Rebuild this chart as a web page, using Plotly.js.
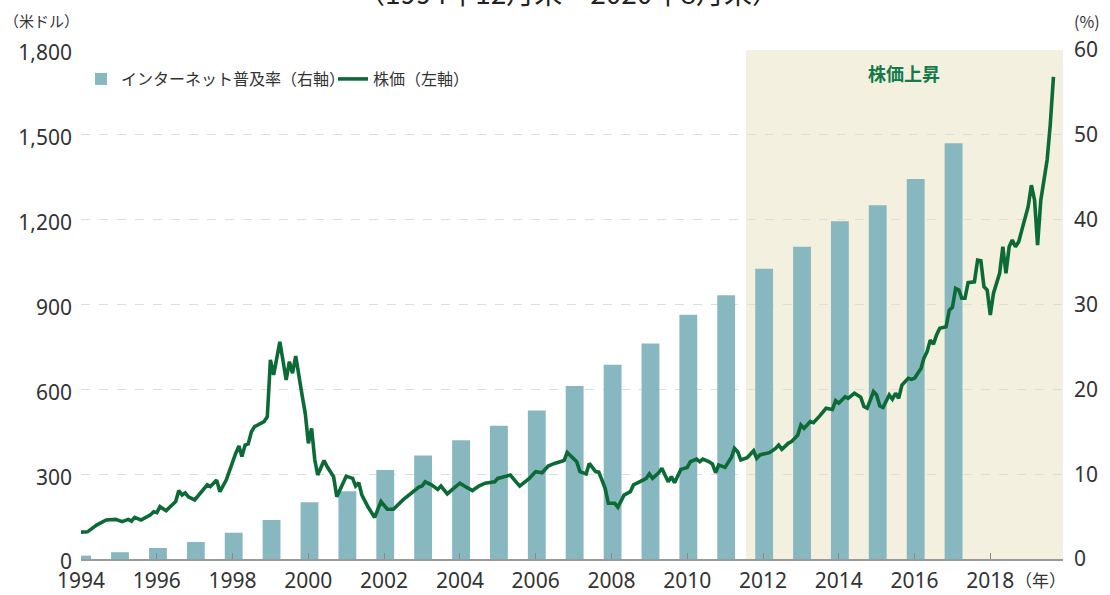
<!DOCTYPE html>
<html>
<head>
<meta charset="utf-8">
<script src="https://cdn.plot.ly/plotly-3.0.1.min.js"></script>
<style>
  html, body { margin: 0; padding: 0; background: #ffffff; }
  #chart { width: 1110px; height: 595px; }
</style>
</head>
<body>
<div id="chart"></div>
<script>
// ---- Data ----
const barYears = [1994,1995,1996,1997,1998,1999,2000,2001,2002,2003,2004,2005,2006,2007,2008,2009,2010,2011,2012,2013,2014,2015,2016,2017];
const internetRate = [0.4,0.8,1.3,2.0,3.1,4.6,6.7,8.0,10.5,12.2,14.0,15.7,17.5,20.4,22.9,25.4,28.8,31.1,34.2,36.8,39.8,41.7,44.8,49.0];

const priceMonths = [
'1994-12','1995-02','1995-05','1995-08','1995-11','1996-01','1996-03','1996-04','1996-05','1996-07','1996-10','1996-11','1996-12',
'1997-01','1997-03','1997-06','1997-07','1997-08','1997-09','1997-10','1997-12','1998-02','1998-04','1998-05','1998-07','1998-08','1998-10',
'1999-01','1999-02','1999-03','1999-04','1999-05','1999-06','1999-07','1999-10','1999-11','1999-12',
'2000-01','2000-03','2000-05','2000-06','2000-07','2000-08','2000-10','2000-11','2000-12',
'2001-01','2001-02','2001-03','2001-05','2001-06','2001-08','2001-09','2001-12',
'2002-02','2002-03','2002-04','2002-05','2002-07','2002-09','2002-11',
'2003-01','2003-03','2003-06','2003-08','2003-09','2003-11','2003-12',
'2004-01','2004-03','2004-05','2004-06','2004-08','2004-10','2004-12',
'2005-02','2005-04','2005-06','2005-08','2005-11','2005-12',
'2006-02','2006-04','2006-06','2006-07','2006-10','2006-12',
'2007-02','2007-04','2007-06','2007-09','2007-10','2007-12',
'2008-01','2008-02','2008-04','2008-05','2008-07','2008-08','2008-10','2008-11',
'2009-01','2009-02','2009-04','2009-06','2009-07','2009-10','2009-11','2009-12',
'2010-01','2010-03','2010-04','2010-05','2010-06','2010-07','2010-08','2010-10','2010-12',
'2011-01','2011-03','2011-04','2011-05','2011-07','2011-08','2011-09','2011-10','2011-12',
'2012-02','2012-03','2012-04','2012-05','2012-07','2012-09','2012-10','2012-11',
'2013-02','2013-04','2013-05','2013-06','2013-08','2013-09','2013-11','2013-12',
'2014-01','2014-03','2014-04','2014-06','2014-08','2014-10','2014-11','2014-12',
'2015-02','2015-03','2015-05','2015-07','2015-08','2015-09','2015-11','2015-12',
'2016-01','2016-02','2016-04','2016-05','2016-06','2016-07','2016-08','2016-10','2016-11','2016-12',
'2017-02','2017-03','2017-04','2017-05','2017-06','2017-07','2017-08','2017-10','2017-11','2017-12',
'2018-01','2018-02','2018-03','2018-04','2018-05','2018-07','2018-08','2018-09','2018-10','2018-11','2018-12',
'2019-01','2019-03','2019-04','2019-05','2019-06','2019-07','2019-08','2019-09','2019-10','2019-12',
'2020-01','2020-02','2020-03','2020-04','2020-06','2020-07','2020-08'
];
const priceValues = [
95,96,120,138,140,132,140,134,147,138,156,167,164,
185,171,203,242,226,234,220,209,238,262,256,279,238,279,
374,400,362,403,407,450,468,486,503,704,
651,768,633,698,657,718,580,515,409,
462,350,297,348,326,291,220,293,
285,258,270,226,183,147,203,
176,176,209,226,238,254,258,
273,262,246,258,230,250,268,
254,242,258,268,273,285,
291,297,270,258,285,309,
305,329,338,348,377,356,
344,309,301,338,309,307,250,197,
197,183,226,238,262,279,285,301,
285,305,321,297,273,291,270,317,324,
344,353,344,353,344,336,305,332,324,
360,391,379,350,358,383,356,368,
376,391,403,388,409,415,438,474,
462,486,482,506,533,529,560,551,
574,568,586,572,539,533,592,580,
541,536,580,565,586,568,615,639,635,639,
674,710,733,774,760,792,816,821,880,890,
957,951,922,922,977,980,1057,1055,963,951,863,
940,1010,1104,1010,1104,1128,1104,1122,1163,1246,
1322,1269,1110,1269,1411,1535,1705
];

const xTickYears = [1994,1996,1998,2000,2002,2004,2006,2008,2010,2012,2014,2016,2018];
const leftTicks = [0,300,600,900,1200,1500,1800];
const rightTicks = [0,10,20,30,40,50,60];

const seriesNames = ['インターネット普及率（右軸）', '株価（左軸）'];
const titleText = '（1994年12月末～2020年8月末）';
const riseLabel = '株価上昇';
const riseStart = '2012-06-20';

// ---- Chart ----
const FONT = '"Noto Sans CJK JP", "Noto Sans", sans-serif';
const NUMFONT = '"Noto Sans", "Noto Sans CJK JP", sans-serif';
const DAY = 86400000;

const barTrace = {
  type: 'bar',
  name: seriesNames[0],
  x: barYears.map(y => y + '-12-12'),
  y: internetRate,
  yaxis: 'y',
  width: barYears.map(() => 172 * DAY),
  marker: { color: '#87b8bf', line: { width: 0 } },
  hoverinfo: 'skip'
};

const lineTrace = {
  type: 'scatter',
  mode: 'lines',
  name: seriesNames[1],
  x: priceMonths.map(m => m + '-01'),
  y: priceValues,
  yaxis: 'y2',
  line: { color: '#0c6a36', width: 3.6, shape: 'linear' },
  hoverinfo: 'skip'
};

const layout = {
  width: 1110,
  height: 595,
  margin: { l: 81, r: 47, t: 50, b: 36 },
  paper_bgcolor: '#ffffff',
  plot_bgcolor: 'rgba(0,0,0,0)',
  font: { family: FONT, color: '#333333', size: 20 },
  showlegend: true,
  legend: {
    orientation: 'h',
    x: 0.0, xanchor: 'left',
    y: 0.943, yanchor: 'middle',
    font: { family: FONT, size: 16, color: '#333333' },
    bgcolor: 'rgba(0,0,0,0)',
    traceorder: 'normal',
    itemwidth: 30,
    entrywidth: 207,
    entrywidthmode: 'pixels'
  },
  xaxis: {
    type: 'date',
    range: ['1994-12-01', '2020-11-01'],
    tickmode: 'array',
    tickvals: xTickYears.map(y => y + '-12-01'),
    ticktext: xTickYears.map(String),
    ticks: 'inside',
    ticklen: 6,
    tickcolor: '#888888',
    tickwidth: 1,
    showline: true,
    linecolor: '#999999',
    linewidth: 1.5,
    showgrid: false,
    zeroline: false,
    ticklabelstandoff: 2,
    tickfont: { family: NUMFONT, size: 21, color: '#333333' },
    fixedrange: true
  },
  yaxis: {
    side: 'right',
    range: [0, 60],
    tickmode: 'array',
    tickvals: rightTicks,
    ticktext: rightTicks.map(String),
    showgrid: true,
    gridcolor: '#dddddd',
    griddash: 'dash',
    gridwidth: 1,
    zeroline: false,
    showline: false,
    ticks: '',
    ticklabelstandoff: 10,
    tickfont: { family: NUMFONT, size: 21, color: '#333333' },
    fixedrange: true
  },
  yaxis2: {
    overlaying: 'y',
    side: 'left',
    range: [0, 1800],
    tickmode: 'array',
    tickvals: leftTicks,
    ticktext: leftTicks.map(v => v.toLocaleString('en-US')),
    showgrid: false,
    zeroline: false,
    showline: false,
    ticks: '',
    ticklabelstandoff: 8,
    ticklabelshift: 3,
    tickfont: { family: NUMFONT, size: 21, color: '#333333' },
    fixedrange: true
  },
  shapes: [
    {
      type: 'rect', layer: 'below',
      xref: 'x', yref: 'paper',
      x0: riseStart, x1: '2020-11-01', y0: 0, y1: 1,
      fillcolor: '#f3f0df', line: { width: 0 }
    }
  ],
  annotations: [
    {
      text: titleText, xref: 'paper', yref: 'paper',
      x: 0.496, y: 1.114, xanchor: 'center', yanchor: 'middle',
      showarrow: false, font: { family: FONT, size: 28, color: '#222222' }
    },
    {
      text: '（米ドル）', xref: 'paper', yref: 'paper',
      x: -0.04, y: 1.057, xanchor: 'center', yanchor: 'middle',
      showarrow: false, font: { family: FONT, size: 15, color: '#333333' }
    },
    {
      text: '(%)', xref: 'paper', yref: 'paper',
      x: 1.0244, y: 1.057, xanchor: 'center', yanchor: 'middle',
      showarrow: false, font: { family: FONT, size: 16, color: '#333333' }
    },
    {
      text: '（年）', xref: 'paper', yref: 'paper',
      x: 0.9766, y: -0.04, xanchor: 'center', yanchor: 'middle',
      showarrow: false, font: { family: FONT, size: 17, color: '#333333' }
    },
    {
      text: '<b>' + riseLabel + '</b>', xref: 'paper', yref: 'paper',
      x: 0.838, y: 0.955, xanchor: 'center', yanchor: 'middle',
      showarrow: false, font: { family: FONT, size: 18, color: '#137a4c' }
    }
  ]
};

Plotly.newPlot('chart', [barTrace, lineTrace], layout, { staticPlot: true, displayModeBar: false });
</script>
</body>
</html>
